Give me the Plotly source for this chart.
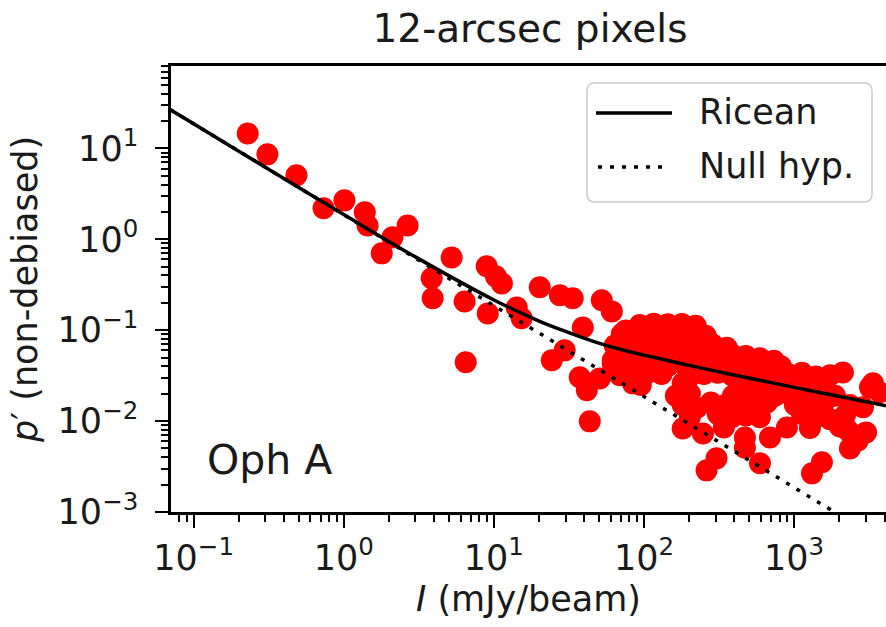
import plotly.graph_objects as go

# Polarization fraction p' (non-debiased) against Stokes I, Oph A, 12-arcsec pixels
intensity = [
    0.229, 0.310, 0.484, 0.733, 1.01, 1.38, 1.44, 1.79, 2.11, 2.66,
    3.85, 3.91, 5.23, 8.95, 10.3, 11.3, 6.38, 9.10, 14.2, 15.3,
    20.2, 27.5, 33.5, 52.3, 61.0, 39.1, 6.49, 24.3, 29.6, 37.3,
    41.6, 43.5, 84.2, 61.9, 75.6, 50.7, 84.2,
    93.7, 116, 144, 179, 221,
    71.1, 88.1, 109, 136, 168, 208, 258,
    63.8, 79.2, 98.2, 122, 151, 187, 232, 288, 356,
    69.0, 85.5, 106, 131, 163, 202, 251, 310, 385, 477,
    592, 733,
    61.9, 76.7, 95.2, 118, 146, 181, 225, 279, 346, 429, 531, 659, 817,
    69.0, 106, 131, 202, 251, 310, 385, 477, 592, 733, 910, 1127, 1396, 1734,
    95.2, 181, 435, 540, 668, 830, 1028, 1274, 1581,
    163, 202, 391, 484, 601, 745, 923, 1146, 1419,
    181, 225, 279, 346, 429, 531, 659, 1012, 1256, 1556,
    202, 310, 385, 477, 592, 1127, 1396, 1734,
    181, 247, 340, 470, 470, 690, 895, 1274, 2018,
    304, 261, 592, 1531, 1315, 2355, 3013,
    2113, 3199, 3733, 2877, 2182, 2284, 2661, 3350, 1871, 2355,
]
p_frac = [
    14.6, 8.59, 5.05, 2.19, 2.68, 1.98, 1.42, 0.70, 1.05, 1.42,
    0.372, 0.224, 0.632, 0.504, 0.391, 0.327, 0.207, 0.153, 0.178, 0.135,
    0.296, 0.242, 0.224, 0.213, 0.161, 0.107, 0.0443, 0.0466, 0.0600, 0.0303,
    0.0218, 0.00993, 0.0260, 0.0466, 0.0995, 0.0295, 0.0335,
    0.114, 0.118, 0.116, 0.117, 0.112,
    0.091, 0.088, 0.092, 0.089, 0.090, 0.093, 0.087,
    0.068, 0.071, 0.069, 0.072, 0.070, 0.068, 0.071, 0.069, 0.064,
    0.055, 0.053, 0.056, 0.054, 0.052, 0.055, 0.053, 0.056, 0.054, 0.052,
    0.049, 0.046,
    0.043, 0.041, 0.042, 0.044, 0.041, 0.043, 0.042, 0.040, 0.043, 0.042, 0.041, 0.043, 0.040,
    0.032, 0.034, 0.033, 0.031, 0.033, 0.034, 0.032, 0.033, 0.034, 0.032, 0.033, 0.034, 0.031, 0.032,
    0.025, 0.026, 0.025, 0.024, 0.026, 0.025, 0.024, 0.026, 0.025,
    0.019, 0.020, 0.019, 0.018, 0.020, 0.019, 0.020, 0.018, 0.019,
    0.015, 0.014, 0.016, 0.015, 0.014, 0.015, 0.016, 0.015, 0.014, 0.015,
    0.011, 0.012, 0.011, 0.0115, 0.011, 0.012, 0.011, 0.0105,
    0.0083, 0.0073, 0.0085, 0.0066, 0.0051, 0.0066, 0.0085, 0.0084, 0.0087,
    0.00389, 0.00287, 0.00343, 0.00352, 0.00266, 0.00501, 0.00751,
    0.0343, 0.0235, 0.0207, 0.0142, 0.0116, 0.0079, 0.00614, 0.0260, 0.019, 0.015,
]

# Ricean model curve
ricean_I = [0.07, 0.1, 0.3, 1, 3, 10, 20, 30, 50, 80, 120, 200, 350, 600, 1000, 1700, 2800, 4500]
ricean_p = [26.6, 18.6, 6.2, 1.87, 0.64, 0.215, 0.126, 0.097, 0.072, 0.058, 0.0497,
            0.041, 0.0336, 0.028, 0.0235, 0.0197, 0.0167, 0.0143]

# Null hypothesis (no polarization): p' proportional to 1/I
null_I = [0.07, 1, 10, 100, 1000, 4500]
null_p = [26.6, 1.86, 0.186, 0.0186, 0.00186, 0.000413]

x_tick_vals = [0.1, 1, 10, 100, 1000]
x_tick_text = ["10<sup>\u22121</sup>", "10<sup>0</sup>", "10<sup>1</sup>", "10<sup>2</sup>", "10<sup>3</sup>"]
y_tick_vals = [0.001, 0.01, 0.1, 1, 10]
y_tick_text = ["10<sup>\u22123</sup>", "10<sup>\u22122</sup>", "10<sup>\u22121</sup>", "10<sup>0</sup>", "10<sup>1</sup>"]

x_minor = [m * 10.0 ** k for k in range(-2, 4) for m in range(2, 10)]
y_minor = [m * 10.0 ** k for k in range(-3, 2) for m in range(2, 10)]

FONT = "DejaVu Sans, Arial, sans-serif"
W, H = 886, 627
ML, MR, MT, MB = 171, 0, 66, 115


def px(x):
    return (x - ML) / (W - ML - MR)


def py(y):
    return (H - MB - y) / (H - MT - MB)


fig = go.Figure()
fig.add_trace(go.Scatter(
    x=intensity, y=p_frac, mode="markers",
    marker=dict(color="#ff0000", size=22, line=dict(width=0)),
    showlegend=False, name="data",
))
fig.add_trace(go.Scatter(
    x=ricean_I, y=ricean_p, mode="lines", line=dict(color="black", width=3.5, shape="spline"),
    showlegend=False, name="Ricean",
))
fig.add_trace(go.Scatter(
    x=null_I, y=null_p, mode="lines", line=dict(color="black", width=3.5, dash="4px,8px"),
    showlegend=False, name="Null hyp.",
))

axis_common = dict(
    type="log", showgrid=False, zeroline=False,
    showline=True, linecolor="black", linewidth=2.5,
    ticks="outside", ticklen=13, tickwidth=2, tickcolor="black",
    tickfont=dict(family=FONT, size=35, color="#1a1a1a"),
)

fig.update_xaxes(
    **axis_common, range=[-1.151, 3.612], mirror=True,
    tickmode="array", tickvals=x_tick_vals, ticktext=x_tick_text,
    minor=dict(tickmode="array", tickvals=x_minor, ticks="outside", ticklen=7,
               tickwidth=1.5, tickcolor="black", showgrid=False),
    title=dict(text="<i>I</i> (mJy/beam)", font=dict(family=FONT, size=35, color="#1a1a1a"), standoff=10),
)
fig.update_yaxes(
    **axis_common, range=[-3, 1.906],
    tickmode="array", tickvals=y_tick_vals, ticktext=y_tick_text,
    minor=dict(tickmode="array", tickvals=y_minor, ticks="outside", ticklen=7,
               tickwidth=1.5, tickcolor="black", showgrid=False),
    ticklabelstandoff=10,
    title=dict(text="<i>p</i>\u2032 (non-debiased)", font=dict(family=FONT, size=35, color="#1a1a1a"), standoff=10),
)

# Legend box with rounded corners
x0, x1, y0, y1 = px(587), px(872), py(202), py(83)
rx, ry = 8 / (W - ML - MR), 8 / (H - MT - MB)
legend_path = (
    f"M{x0 + rx},{y1} L{x1 - rx},{y1} Q{x1},{y1} {x1},{y1 - ry} "
    f"L{x1},{y0 + ry} Q{x1},{y0} {x1 - rx},{y0} L{x0 + rx},{y0} "
    f"Q{x0},{y0} {x0},{y0 + ry} L{x0},{y1 - ry} Q{x0},{y1} {x0 + rx},{y1} Z"
)
shapes = [
    dict(type="path", xref="paper", yref="paper", path=legend_path,
         fillcolor="rgba(255,255,255,0.8)", line=dict(color="#cccccc", width=1.5), layer="above"),
    dict(type="line", xref="paper", yref="paper", x0=px(596), x1=px(672), y0=py(113), y1=py(113),
         line=dict(color="black", width=3.5), layer="above"),
    dict(type="line", xref="paper", yref="paper", x0=px(598), x1=px(670), y0=py(167), y1=py(167),
         line=dict(color="black", width=3.5, dash="4px,8px"), layer="above"),
]
annotations = [
    dict(text="Ricean", xref="paper", yref="paper", x=px(697), y=py(112), xanchor="left", yanchor="middle",
         showarrow=False, font=dict(family=FONT, size=35, color="#1a1a1a")),
    dict(text="Null hyp.", xref="paper", yref="paper", x=px(697), y=py(166), xanchor="left", yanchor="middle",
         showarrow=False, font=dict(family=FONT, size=35, color="#1a1a1a")),
    dict(text="Oph A", xref="paper", yref="paper", x=px(205), y=py(460), xanchor="left", yanchor="middle",
         showarrow=False, font=dict(family=FONT, size=41, color="#1a1a1a")),
]

fig.update_layout(
    width=W, height=H,
    margin=dict(l=ML, r=MR, t=MT, b=MB, autoexpand=False),
    paper_bgcolor="white", plot_bgcolor="white",
    font=dict(family=FONT, color="#1a1a1a"),
    title=dict(text="12-arcsec pixels", x=px(530), xanchor="center", xref="paper",
               y=1 - 28 / H, yanchor="middle", yref="container",
               font=dict(family=FONT, size=39, color="#1a1a1a")),
    shapes=shapes, annotations=annotations, showlegend=False,
)

fig.write_html("out.html")
